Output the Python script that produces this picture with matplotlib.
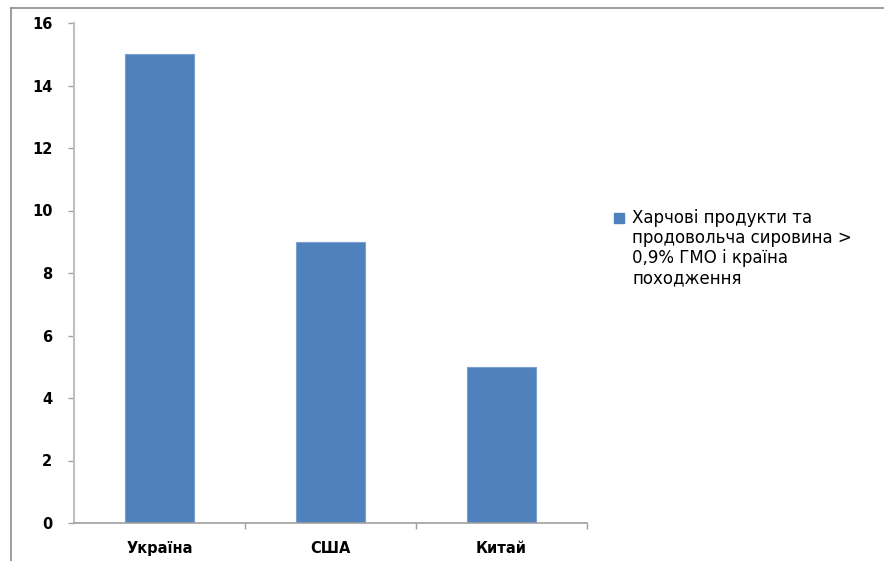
#!/usr/bin/env python3

import numpy as np
import matplotlib.pyplot as plt
from matplotlib.patches import Rectangle
from matplotlib.lines import Line2D

countries = ['Україна', 'США', 'Китай']
values = [15, 9, 5]
series_name = 'Харчові продукти та\nпродовольча сировина >\n0,9% ГМО і країна\nпоходження'
y_ticks = [0, 2, 4, 6, 8, 10, 12, 14, 16]

bar_color = '#4F81BD'
plt.rcParams['font.family'] = ['DejaVu Sans']


def draw_chart():
    fig = plt.figure(figsize=(8.84, 5.61), dpi=100)
    fig.set(facecolor='white')
    W, H = 884, 561

    # outer frame of the chart area (only top and left edges are in view)
    fig.add_artist(Line2D([11 / W, 1], [1 - 8 / H, 1 - 8 / H],
                          transform=fig.transFigure, color='#8c8c8c', lw=1.2))
    fig.add_artist(Line2D([11 / W, 11 / W], [0, 1 - 8 / H],
                          transform=fig.transFigure, color='#8c8c8c', lw=1.2))

    ax = fig.add_axes([74 / W, 38 / H, 513 / W, 500 / H])
    x = np.arange(len(countries))
    ax.bar(x, values, width=0.4, color=bar_color, edgecolor='#7a9fd0', linewidth=0.8)

    ax.set_xlim(-0.5, len(countries) - 0.5)
    ax.set_ylim(0, 16)
    ax.set_yticks(y_ticks)
    ax.set_yticklabels([str(t) for t in y_ticks], fontsize=10.5, fontweight='bold')

    # category labels centred on bars, tick marks on category boundaries
    ax.set_xticks(x)
    ax.set_xticklabels(countries, fontsize=10.5, fontweight='bold')
    ax.tick_params(axis='x', length=0, pad=13)
    ax.set_xticks(np.arange(1, len(countries) + 1) - 0.5, minor=True)
    ax.tick_params(axis='x', which='minor', length=4.5, color='#a0a0a0', width=1)
    ax.tick_params(axis='y', length=4.5, color='#a0a0a0', width=1, pad=11)

    for side in ['top', 'right']:
        ax.spines[side].set_visible(False)
    ax.spines['left'].set_color('#c0c0c0')
    ax.spines['left'].set_linewidth(1.5)
    ax.spines['bottom'].set_color('#a0a0a0')
    ax.spines['bottom'].set_linewidth(1.2)

    # legend
    fig.add_artist(Rectangle((614 / W, 1 - 223 / H), 10 / W, 10 / H,
                             transform=fig.transFigure, color=bar_color))
    fig.text(632 / W, 1 - 209 / H, series_name, fontsize=12,
             va='top', ha='left', linespacing=1.14, color='black')

    fig.savefig('out.png', dpi=100)


draw_chart()
